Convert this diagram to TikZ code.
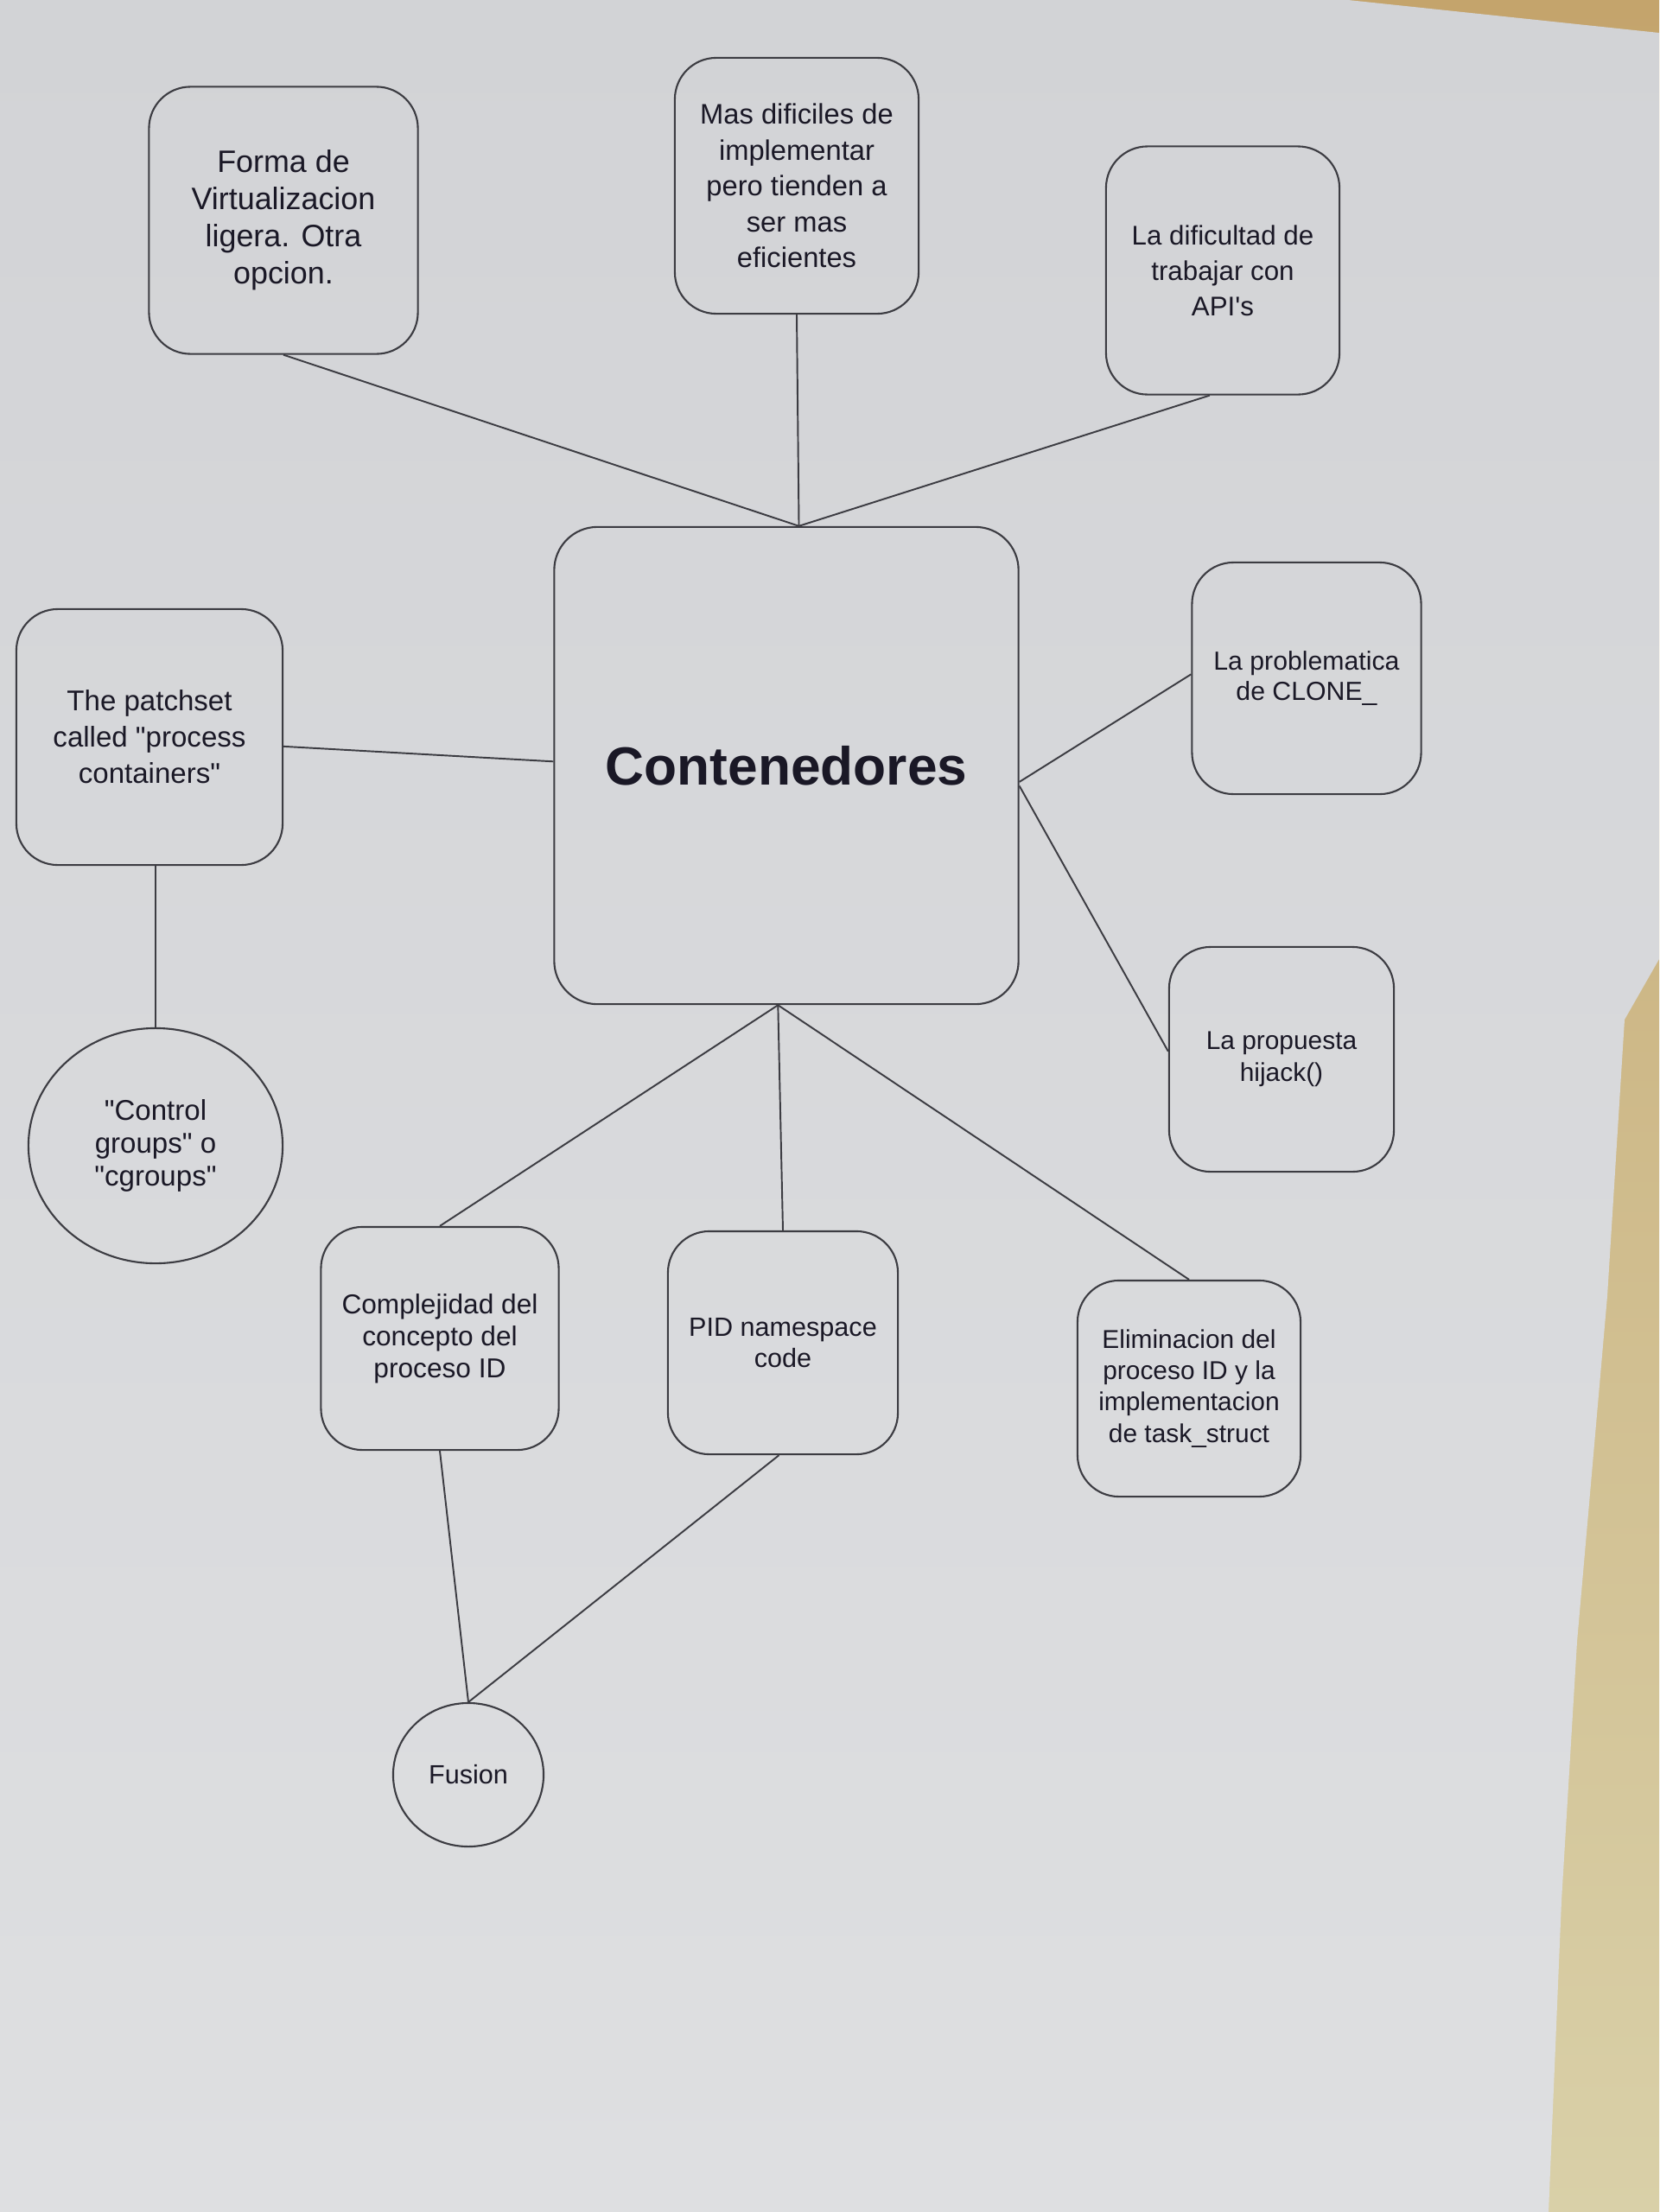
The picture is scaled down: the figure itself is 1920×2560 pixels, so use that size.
\documentclass[tikz,border=0pt]{standalone}
\usepackage{fontspec}
\setmainfont{Liberation Sans}[Ligatures=TeXOff]
\usetikzlibrary{shapes.geometric}

\definecolor{papertop}{HTML}{D2D3D6}
\definecolor{paperbot}{HTML}{DEDFE1}
\definecolor{deskTop}{HTML}{C4A46C}
\definecolor{deskBot}{HTML}{D9D0A8}
\definecolor{inkc}{HTML}{1A1826}
\definecolor{linec}{HTML}{3C3C42}

\tikzset{
  box/.style={draw=linec, line width=0.6pt, rounded corners=0.48cm,
    align=center, inner sep=0pt, text=inkc},
  bigbox/.style={box, rounded corners=0.5cm},
  bubble/.style={ellipse, draw=linec, line width=0.6pt, align=center,
    inner sep=0pt, text=inkc},
  link/.style={draw=linec, line width=0.55pt},
  fs/.style 2 args={font=\fontsize{#1}{#2}\selectfont}
}

\begin{document}
\begin{tikzpicture}[x=0.01cm, y=-0.01cm]
  \useasboundingbox (0,0) rectangle (1920,2560);

  % desk behind the sheet, then the sheet itself
  \shade[top color=deskTop, bottom color=deskBot] (0,0) rectangle (1920,2560);
  \shade[top color=papertop, bottom color=paperbot]
    (0,0) -- (1560,0) -- (1920,38) -- (1920,1110) -- (1880,1180)
    -- (1860,1500) -- (1825,1900) -- (1807,2200) -- (1792,2560)
    -- (0,2560) -- cycle;

  % central topic
  \node[bigbox, minimum width=5.37cm, minimum height=5.52cm,
        font=\fontsize{17.7}{20}\selectfont\bfseries]
    (cont) at (910,886) {Contenedores};

  % upper row
  \node[box, minimum width=3.11cm, minimum height=3.09cm, fs={10.2}{12.2}]
    (forma) at (328,255) {Forma de\\Virtualizacion\\ligera. Otra\\opcion.};
  \node[box, minimum width=2.82cm, minimum height=2.96cm, fs={9.3}{11.8}]
    (mas) at (922,215) {Mas dificiles de\\implementar\\pero tienden a\\ser mas\\eficientes};
  \node[box, minimum width=2.70cm, minimum height=2.87cm, fs={8.9}{11.7}]
    (dif) at (1415,313) {La dificultad de\\trabajar con\\API's};

  % left branch
  \node[box, minimum width=3.08cm, minimum height=2.96cm, fs={9.4}{11.9}]
    (patch) at (173,853) {The patchset\\called "process\\containers"};
  \node[bubble, minimum width=2.94cm, minimum height=2.72cm, fs={9.4}{10.9}]
    (cg) at (180,1326) {"Control\\groups" o\\"cgroups"};

  % right branch
  \node[box, minimum width=2.65cm, minimum height=2.68cm, fs={8.6}{10.2}]
    (prob) at (1512,785) {La problematica\\de CLONE\_};
  \node[box, minimum width=2.60cm, minimum height=2.60cm, fs={8.5}{10.5}]
    (prop) at (1483,1226) {La propuesta\\hijack()};

  % lower row
  \node[box, minimum width=2.75cm, minimum height=2.58cm, fs={9.0}{10.5}]
    (compl) at (509,1549) {Complejidad del\\concepto del\\proceso ID};
  \node[box, minimum width=2.66cm, minimum height=2.58cm, fs={8.7}{10.3}]
    (pid) at (906,1554) {PID namespace\\code};
  \node[box, minimum width=2.58cm, minimum height=2.50cm, fs={8.5}{10.3}]
    (elim) at (1376,1607) {Eliminacion del\\proceso ID y la\\implementacion\\de task\_struct};

  \node[bubble, minimum width=1.74cm, minimum height=1.66cm, fs={8.7}{10.3}]
    (fus) at (542,2054) {Fusion};

  % connectors
  \draw[link] (forma.south) -- (cont.87);
  \draw[link] (mas.south) -- (cont.87);
  \draw[link] (dif.264) -- (cont.87);
  \draw[link] (patch.-4) -- (cont.179);
  \draw[link] (cg.north |- patch.south) -- (cg.north);
  \draw[link] (cont.-4) -- (prob.178);
  \draw[link] (cont.-5) -- (prop.176);
  \draw[link] (cont.268) -- (compl.north);
  \draw[link] (cont.268) -- (pid.north);
  \draw[link] (cont.268) -- (elim.north);
  \draw[link] (compl.south) -- (fus.north);
  \draw[link] (pid.268) -- (fus.north);
\end{tikzpicture}
\end{document}
